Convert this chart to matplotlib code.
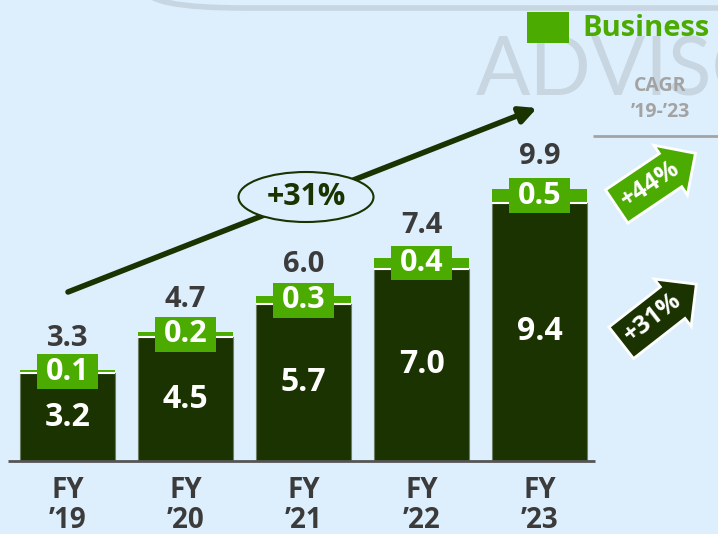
import matplotlib.pyplot as plt
from matplotlib.patches import Rectangle, Ellipse, FancyBboxPatch

# data
years = ["’19", "’20", "’21", "’22", "’23"]
core = [3.2, 4.5, 5.7, 7.0, 9.4]
business = [0.1, 0.2, 0.3, 0.4, 0.5]
totals = [3.3, 4.7, 6.0, 7.4, 9.9]
trend_label = "+31%"
cagr_business = "+44%"
cagr_core = "+31%"

BG = '#ddeffd'
DARK = '#1a3300'
GREEN = '#4cab00'
TXT = '#3b3b3b'
WM = '#c8d6e1'
HW = 'bold'

plt.rcParams['font.family'] = ['Open Sans', 'DejaVu Sans']

fig = plt.figure(figsize=(7.18, 5.34), dpi=100, facecolor=BG)
ax = fig.add_axes([0, 0, 1, 1])
ax.set_facecolor(BG)

# source geometry: bar centres 118 px apart, baseline at y=461 px, 27.5 px per unit
X0, DX, Y0, DY = 67.5, 118.0, 461.0, 27.5
ax.set_xlim(-X0 / DX, (718 - X0) / DX)
ax.set_ylim(-(534 - Y0) / DY, Y0 / DY)
ax.axis('off')


def px(x, y):
    # pixel position (from top-left) -> data coords, for the decorations
    return (x - X0) / DX, (Y0 - y) / DY


# watermark + logo outline
ax.text(*px(476, 95), "ADVISORY", fontsize=58, color=WM, fontweight='normal',
        family='Lato', ha='left', va='baseline', zorder=0)
fig.patches.append(FancyBboxPatch((1.45, 5.26), 8.0, 1.2,
                                  boxstyle='round,pad=0,rounding_size=1.0',
                                  transform=fig.dpi_scale_trans, fc='none',
                                  ec=WM, lw=4, zorder=0))

x = list(range(len(core)))
w = 0.81
ax.bar(x, core, width=w, color=DARK, edgecolor='#6d7d63', lw=0.8, zorder=2)
ax.bar(x, business, bottom=core, width=w, color=GREEN, lw=0, zorder=2)
for i in x:
    ax.hlines(core[i], i - w / 2, i + w / 2, color='white', lw=1.5, zorder=3)

ax.hlines(0, *[px(8, 0)[0], px(595, 0)[0]], color='#555555', lw=2, zorder=3)

for i in x:
    c, b, t = core[i], business[i], totals[i]
    ax.text(i, c / 2, f"{c:.1f}", color='white', fontsize=23, fontweight=HW,
            ha='center', va='center', zorder=4)
    mid = c + b / 2
    ax.add_patch(Rectangle((i - 0.26, mid - 0.635), 0.52, 1.27, fc=GREEN, lw=0, zorder=4))
    ax.text(i, mid, f"{b:.1f}", color='white', fontsize=22, fontweight=HW,
            ha='center', va='center', zorder=5)
    ax.annotate(f"{t:.1f}", (i, t), xytext=(0, 23), textcoords='offset points',
                color=TXT, fontsize=21, fontweight=HW, ha='center', va='center')
    ax.text(i, px(0, 490)[1], "FY", color=TXT, fontsize=20, fontweight=HW,
            ha='center', va='center')
    ax.text(i, px(0, 521)[1], years[i], color=TXT, fontsize=20, fontweight=HW,
            ha='center', va='center')

# trend arrow with ellipse label
ax.annotate('', xy=px(537, 108), xytext=px(68, 292),
            arrowprops=dict(arrowstyle='-|>,head_length=1.0,head_width=0.5',
                            color=DARK, lw=4, shrinkA=0, shrinkB=0), zorder=3)
ax.add_patch(Ellipse(px(306, 197), 135 / DX, 50 / DY, fc=BG, ec=DARK, lw=1.5, zorder=4))
ax.text(*px(306, 197), trend_label, color=DARK, fontsize=22, fontweight=HW,
        ha='center', va='center', zorder=5)

# legend
ax.add_patch(Rectangle(px(527, 43), 42 / DX, 31 / DY, fc=GREEN, lw=0))
ax.text(*px(582, 29), "Business", color=GREEN, fontsize=21, fontweight=HW,
        ha='left', va='center')

# CAGR column
ax.text(*px(660, 86), "CAGR", color='#a3a3a3', fontsize=14, fontweight=HW,
        ha='center', va='center')
ax.text(*px(660, 112), "’19-’23", color='#a3a3a3', fontsize=14, fontweight=HW,
        ha='center', va='center')
ax.hlines(px(0, 136)[1], px(593, 0)[0], px(718, 0)[0], color='#a3a3a3', lw=2)

ax.text(*px(650, 184), cagr_business, rotation=34, color='white', fontsize=18,
        fontweight=HW, ha='center', va='center',
        bbox=dict(boxstyle='rarrow,pad=0.3', fc=GREEN, ec='white', lw=2))
ax.text(*px(653, 318), cagr_core, rotation=38, color='white', fontsize=18,
        fontweight=HW, ha='center', va='center',
        bbox=dict(boxstyle='rarrow,pad=0.3', fc=DARK, ec='white', lw=2))

fig.savefig('out.png', dpi=100, facecolor=BG)
